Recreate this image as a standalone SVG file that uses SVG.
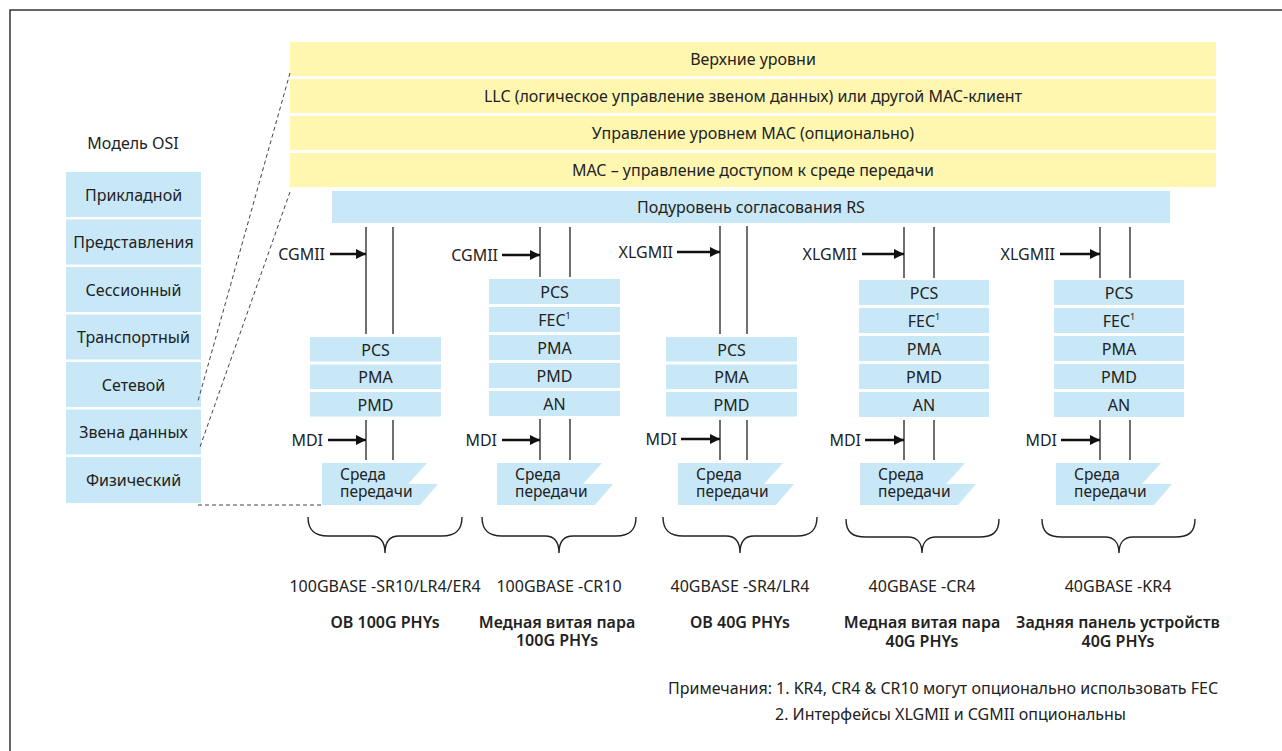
<svg xmlns="http://www.w3.org/2000/svg" width="1282" height="751" viewBox="0 0 1282 751">
<style>
text{font-family:"Noto Sans","Liberation Sans",sans-serif;font-size:16px;fill:#222;}
.c{text-anchor:middle;dominant-baseline:central;}
.r{text-anchor:end;dominant-baseline:central;}
.b{font-weight:600;}
.m{font-size:15.5px;}
.y{fill:#FFF7B0;}
.bl{fill:#C8E8F8;}
.v{stroke:#222;stroke-width:1.3;fill:none;}
.a{stroke:#111;stroke-width:2.6;fill:none;}
.d{stroke:#444;stroke-width:1;stroke-dasharray:4 3;fill:none;}
.br{stroke:#222;stroke-width:1.4;fill:none;}
</style>
<defs>
<marker id="ah" markerUnits="userSpaceOnUse" markerWidth="11" markerHeight="10" refX="10" refY="5" orient="auto">
<path d="M0,0 L10,5 L0,10 z" fill="#111"/>
</marker>
<path id="med" d="M0,0 H105 L86,21 H116 L98,42 H0 z"/>
</defs>
<path d="M10,751 V10 H1282" stroke="#333" stroke-width="1.5" fill="none"/>

<g id="osi">
<text class="c" x="133" y="143">Модель OSI</text>
<g id="osi-7"><rect class="bl" x="66" y="172" width="135" height="45"/><text class="c" x="133.5" y="194.5">Прикладной</text></g>
<g id="osi-6"><rect class="bl" x="66" y="219.5" width="135" height="45"/><text class="c" x="133.5" y="242">Представления</text></g>
<g id="osi-5"><rect class="bl" x="66" y="267" width="135" height="45"/><text class="c" x="133.5" y="289.5">Сессионный</text></g>
<g id="osi-4"><rect class="bl" x="66" y="314.5" width="135" height="45"/><text class="c" x="133.5" y="337">Транспортный</text></g>
<g id="osi-3"><rect class="bl" x="66" y="362" width="135" height="45"/><text class="c" x="133.5" y="384.5">Сетевой</text></g>
<g id="osi-2"><rect class="bl" x="66" y="409.5" width="135" height="45"/><text class="c" x="133.5" y="432">Звена данных</text></g>
<g id="osi-1"><rect class="bl" x="66" y="457" width="135" height="46"/><text class="c" x="133.5" y="480">Физический</text></g>
</g>

<g id="upper">
<g id="u1"><rect class="y" x="290" y="42" width="926" height="34"/><text class="c" x="753" y="59">Верхние уровни</text></g>
<g id="u2"><rect class="y" x="290" y="79" width="926" height="34"/><text class="c" x="753" y="96">LLC (логическое управление звеном данных) или другой MAC-клиент</text></g>
<g id="u3"><rect class="y" x="290" y="116" width="926" height="34"/><text class="c" x="753" y="133">Управление уровнем MAC (опционально)</text></g>
<g id="u4"><rect class="y" x="290" y="153" width="926" height="34"/><text class="c" x="753" y="170">MAC  – управление доступом к среде передачи</text></g>
<g id="rs"><rect class="bl" x="332" y="191" width="838" height="32"/><text class="c" x="751" y="207">Подуровень согласования RS</text></g>
</g>

<g id="connectors">
<line class="d" x1="290" y1="73" x2="198" y2="401"/>
<line class="d" x1="290" y1="192" x2="200" y2="447"/>
<line class="d" x1="198" y1="505" x2="321" y2="505"/>
<line class="v" x1="366" y1="227" x2="366" y2="334"/><line class="v" x1="393" y1="227" x2="393" y2="334"/>
<line class="a" x1="330" y1="254" x2="366" y2="254" marker-end="url(#ah)"/>
<line class="v" x1="366" y1="420" x2="366" y2="460"/><line class="v" x1="393" y1="420" x2="393" y2="460"/>
<line class="a" x1="328" y1="440" x2="366" y2="440" marker-end="url(#ah)"/>
<line class="v" x1="540" y1="227" x2="540" y2="277"/><line class="v" x1="570" y1="227" x2="570" y2="277"/>
<line class="a" x1="502" y1="255" x2="540" y2="255" marker-end="url(#ah)"/>
<line class="v" x1="540" y1="419" x2="540" y2="460"/><line class="v" x1="570" y1="419" x2="570" y2="460"/>
<line class="a" x1="502" y1="440" x2="540" y2="440" marker-end="url(#ah)"/>
<line class="v" x1="720" y1="226" x2="720" y2="334"/><line class="v" x1="747" y1="226" x2="747" y2="334"/>
<line class="a" x1="677" y1="252" x2="720" y2="252" marker-end="url(#ah)"/>
<line class="v" x1="720" y1="420" x2="720" y2="460"/><line class="v" x1="747" y1="420" x2="747" y2="460"/>
<line class="a" x1="681" y1="439" x2="720" y2="439" marker-end="url(#ah)"/>
<line class="v" x1="904" y1="227" x2="904" y2="278"/><line class="v" x1="934" y1="227" x2="934" y2="278"/>
<line class="a" x1="862" y1="254" x2="904" y2="254" marker-end="url(#ah)"/>
<line class="v" x1="904" y1="420" x2="904" y2="460"/><line class="v" x1="934" y1="420" x2="934" y2="460"/>
<line class="a" x1="865" y1="440" x2="904" y2="440" marker-end="url(#ah)"/>
<line class="v" x1="1100" y1="227" x2="1100" y2="278"/><line class="v" x1="1130" y1="227" x2="1130" y2="278"/>
<line class="a" x1="1060" y1="254" x2="1100" y2="254" marker-end="url(#ah)"/>
<line class="v" x1="1100" y1="420" x2="1100" y2="460"/><line class="v" x1="1130" y1="420" x2="1130" y2="460"/>
<line class="a" x1="1061" y1="440" x2="1100" y2="440" marker-end="url(#ah)"/>
<path class="br" d="M308,517 C308,530 314,536 328,536 H371 C380,536 385,542 385,553 C385,542 390,536 399,536 H442 C456,536 462,530 462,517"/>
<path class="br" d="M482,517 C482,530 488,536 502,536 H545 C554,536 559,542 559,553 C559,542 564,536 573,536 H616 C630,536 636,530 636,517"/>
<path class="br" d="M663,517 C663,530 669,536 683,536 H726 C735,536 740,542 740,553 C740,542 745,536 754,536 H797 C811,536 817,530 817,517"/>
<path class="br" d="M846,519 C846,532 852,537 866,537 H908 C917,537 922,543 922,553 C922,543 927,537 936,537 H979 C993,537 999,532 999,519"/>
<path class="br" d="M1042,519 C1042,532 1048,537 1062,537 H1105 C1114,537 1119,543 1119,553 C1119,543 1124,537 1133,537 H1175 C1189,537 1195,532 1195,519"/>
</g>

<g id="col1">
<text class="r" x="325" y="254">CGMII</text>
<g id="c1-pcs"><rect class="bl" x="310" y="337" width="131" height="24.5"/><text class="c" x="375.5" y="349.5">PCS</text></g>
<g id="c1-pma"><rect class="bl" x="310" y="364.5" width="131" height="24.5"/><text class="c" x="375.5" y="377">PMA</text></g>
<g id="c1-pmd"><rect class="bl" x="310" y="392" width="131" height="24.5"/><text class="c" x="375.5" y="404.5">PMD</text></g>
<text class="r" x="323" y="440">MDI</text>
<g id="c1-med"><use href="#med" x="322" y="463" class="bl"/><text class="m" x="340" y="480">Среда<tspan x="340" dy="17">передачи</tspan></text></g>
<text class="c" x="385" y="586">100GBASE -SR10/LR4/ER4</text>
<text class="c b" x="385" y="622">ОВ 100G PHYs</text>
</g>

<g id="col2">
<text class="r" x="498" y="255">CGMII</text>
<g id="c2-pcs"><rect class="bl" x="489" y="279" width="131" height="25"/><text class="c" x="554.5" y="291.5">PCS</text></g>
<g id="c2-fec"><rect class="bl" x="489" y="307" width="131" height="25"/><text class="c" x="554.5" y="319.5">FEC<tspan font-size="9" dy="-5">1</tspan></text></g>
<g id="c2-pma"><rect class="bl" x="489" y="335" width="131" height="25"/><text class="c" x="554.5" y="347.5">PMA</text></g>
<g id="c2-pmd"><rect class="bl" x="489" y="363" width="131" height="25"/><text class="c" x="554.5" y="375.5">PMD</text></g>
<g id="c2-an"><rect class="bl" x="489" y="391" width="131" height="25"/><text class="c" x="554.5" y="403.5">AN</text></g>
<text class="r" x="497" y="440">MDI</text>
<g id="c2-med"><use href="#med" x="497" y="463" class="bl"/><text class="m" x="515" y="480">Среда<tspan x="515" dy="17">передачи</tspan></text></g>
<text class="c" x="559" y="586">100GBASE -CR10</text>
<text class="c b" x="557" y="622">Медная витая пара<tspan x="557" dy="18">100G PHYs</tspan></text>
</g>

<g id="col3">
<text class="r" x="673" y="252">XLGMII</text>
<g id="c3-pcs"><rect class="bl" x="666" y="337" width="131" height="24.5"/><text class="c" x="731.5" y="349.5">PCS</text></g>
<g id="c3-pma"><rect class="bl" x="666" y="364.5" width="131" height="24.5"/><text class="c" x="731.5" y="377">PMA</text></g>
<g id="c3-pmd"><rect class="bl" x="666" y="392" width="131" height="24.5"/><text class="c" x="731.5" y="404.5">PMD</text></g>
<text class="r" x="677" y="439">MDI</text>
<g id="c3-med"><use href="#med" x="678" y="463" class="bl"/><text class="m" x="696" y="480">Среда<tspan x="696" dy="17">передачи</tspan></text></g>
<text class="c" x="740" y="586">40GBASE -SR4/LR4</text>
<text class="c b" x="740" y="622">ОВ 40G PHYs</text>
</g>

<g id="col4">
<text class="r" x="857" y="254">XLGMII</text>
<g id="c4-pcs"><rect class="bl" x="859" y="280" width="130" height="25"/><text class="c" x="924" y="292.5">PCS</text></g>
<g id="c4-fec"><rect class="bl" x="859" y="308" width="130" height="25"/><text class="c" x="924" y="320.5">FEC<tspan font-size="9" dy="-5">1</tspan></text></g>
<g id="c4-pma"><rect class="bl" x="859" y="336" width="130" height="25"/><text class="c" x="924" y="348.5">PMA</text></g>
<g id="c4-pmd"><rect class="bl" x="859" y="364" width="130" height="25"/><text class="c" x="924" y="376.5">PMD</text></g>
<g id="c4-an"><rect class="bl" x="859" y="392" width="130" height="25"/><text class="c" x="924" y="404.5">AN</text></g>
<text class="r" x="861" y="440">MDI</text>
<g id="c4-med"><use href="#med" x="860" y="463" class="bl"/><text class="m" x="878" y="480">Среда<tspan x="878" dy="17">передачи</tspan></text></g>
<text class="c" x="922" y="586">40GBASE -CR4</text>
<text class="c b" x="922" y="622">Медная витая пара<tspan x="922" dy="19">40G PHYs</tspan></text>
</g>

<g id="col5">
<text class="r" x="1055" y="254">XLGMII</text>
<g id="c5-pcs"><rect class="bl" x="1054" y="280" width="130" height="25"/><text class="c" x="1119" y="292.5">PCS</text></g>
<g id="c5-fec"><rect class="bl" x="1054" y="308" width="130" height="25"/><text class="c" x="1119" y="320.5">FEC<tspan font-size="9" dy="-5">1</tspan></text></g>
<g id="c5-pma"><rect class="bl" x="1054" y="336" width="130" height="25"/><text class="c" x="1119" y="348.5">PMA</text></g>
<g id="c5-pmd"><rect class="bl" x="1054" y="364" width="130" height="25"/><text class="c" x="1119" y="376.5">PMD</text></g>
<g id="c5-an"><rect class="bl" x="1054" y="392" width="130" height="25"/><text class="c" x="1119" y="404.5">AN</text></g>
<text class="r" x="1057" y="440">MDI</text>
<g id="c5-med"><use href="#med" x="1056" y="463" class="bl"/><text class="m" x="1074" y="480">Среда<tspan x="1074" dy="17">передачи</tspan></text></g>
<text class="c" x="1118" y="586">40GBASE -KR4</text>
<text class="c b" x="1118" y="622">Задняя панель устройств<tspan x="1118" dy="19">40G PHYs</tspan></text>
</g>

<g id="notes">
<text x="668" y="694">Примечания: 1. KR4, CR4 &amp; CR10 могут опционально использовать FEC</text>
<text x="775" y="720">2. Интерфейсы XLGMII и CGMII опциональны</text>
</g>
</svg>
